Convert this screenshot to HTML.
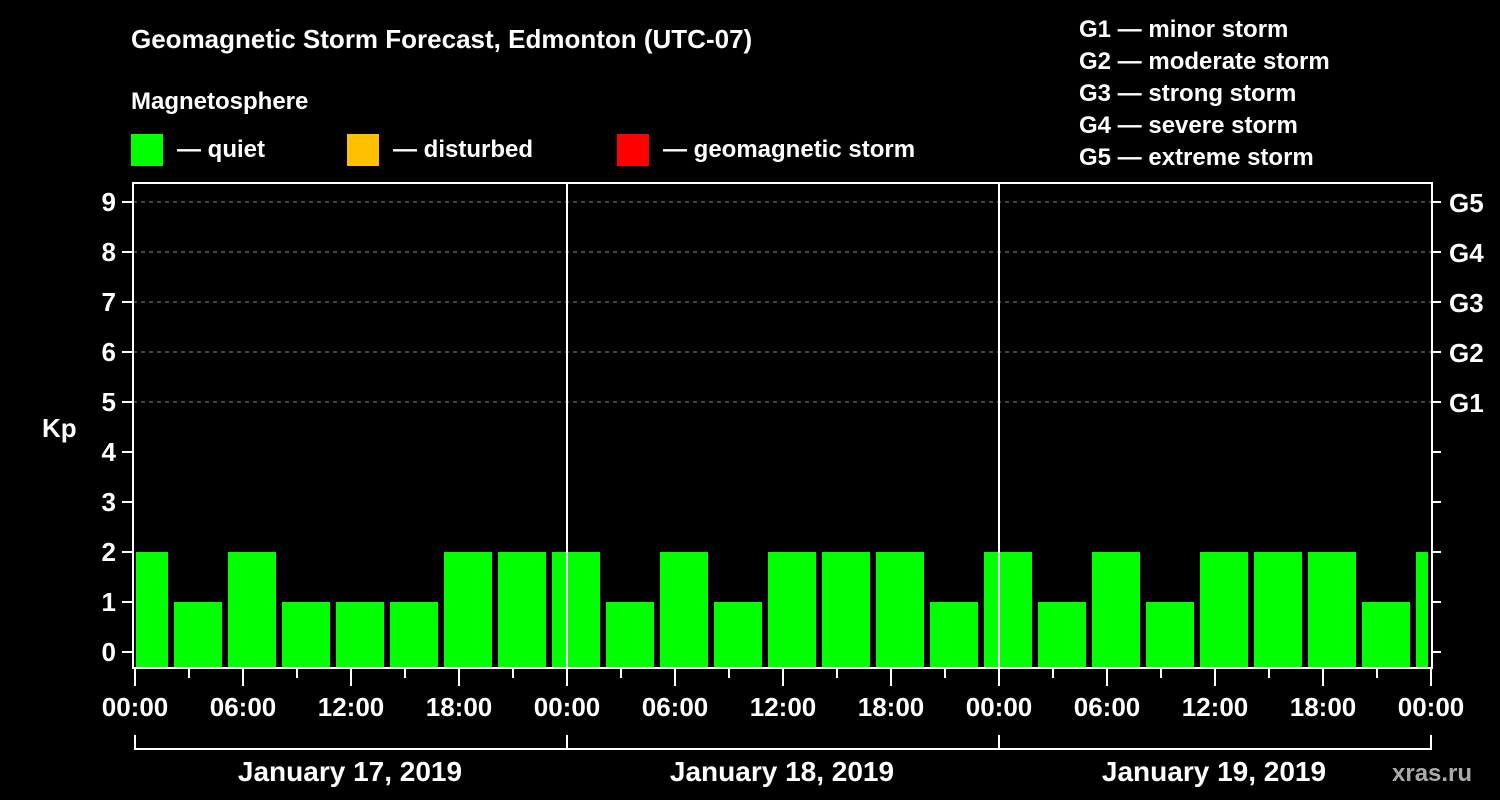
<!DOCTYPE html>
<html><head><meta charset="utf-8"><style>
html,body{margin:0;padding:0;background:#000;width:1500px;height:800px;overflow:hidden}
svg text{font-family:"Liberation Sans",sans-serif;font-weight:bold;fill:#fff}
</style></head><body>
<svg id="chart" width="1500" height="800" xmlns="http://www.w3.org/2000/svg">
<rect width="1500" height="800" fill="#000"/>
<text x="131" y="48" font-size="26">Geomagnetic Storm Forecast, Edmonton (UTC-07)</text>
<text x="131" y="109" font-size="24">Magnetosphere</text>
<g><rect x="131" y="134" width="32" height="32" fill="#00ff00"/><text x="177" y="157" font-size="24">— quiet</text></g>
<g><rect x="347" y="134" width="32" height="32" fill="#ffc000"/><text x="393" y="157" font-size="24">— disturbed</text></g>
<g><rect x="617" y="134" width="32" height="32" fill="#ff0000"/><text x="663" y="157" font-size="24">— geomagnetic storm</text></g>
<g font-size="24">
<text x="1079" y="37">G1 — minor storm</text>
<text x="1079" y="69">G2 — moderate storm</text>
<text x="1079" y="101">G3 — strong storm</text>
<text x="1079" y="133">G4 — severe storm</text>
<text x="1079" y="165">G5 — extreme storm</text>
</g>
<text x="42" y="437" font-size="26">Kp</text>
<text x="1392" y="781" font-size="24" fill="#aaa" style="fill:#aaa">xras.ru</text>
<g id="grid"></g><g id="bars"></g><g id="axes"></g>
</svg>
<script>
const barStartHours = [-1,2,5,8,11,14,17,20,23,26,29,32,35,38,41,44,47,50,53,56,59,62,65,68,71];
const kpValues = [2,1,2,1,1,1,2,2,2,1,2,1,2,2,2,1,2,1,2,1,2,2,2,1,2];
const yTicks = [0,1,2,3,4,5,6,7,8,9];
const gLabels = ["G1","G2","G3","G4","G5"];
const gLevels = [5,6,7,8,9];
const hourLabels = ["00:00","06:00","12:00","18:00","00:00","06:00","12:00","18:00","00:00","06:00","12:00","18:00","00:00"];
const dayLabels = ["January 17, 2019","January 18, 2019","January 19, 2019"];
const NS="http://www.w3.org/2000/svg";
const X=h=>135+18*h, Y=v=>652-50*v;
const L=133, R=1432, T=183, B=668;
function mk(tag,attrs,parent,txt){const e=document.createElementNS(NS,tag);for(const k in attrs)e.setAttribute(k,attrs[k]);if(txt!==undefined)e.textContent=txt;parent.appendChild(e);return e;}
const grid=document.getElementById('grid'),bars=document.getElementById('bars'),axes=document.getElementById('axes');
gLevels.forEach((v,i)=>{
  const l=mk('line',{x1:L,x2:R,y1:Y(v),y2:Y(v),stroke:'#888','stroke-dasharray':'4,4','stroke-width':1},grid);
  
  
  const t=mk('text',{x:1449,y:Y(v)+10,'font-size':26},axes,gLabels[i]);
  
  
});
barStartHours.forEach((h,i)=>{
  let x0=X(h)+3,x1=X(h)+51;x0=Math.max(x0,136);x1=Math.min(x1,1428);
  const v=kpValues[i];
  const col=v>=5?'#ff0000':(v>=4?'#ffc000':'#00ff00');
  const r=mk('rect',{x:x0,y:Y(v),width:x1-x0,height:B-Y(v),fill:col},bars);
  
  
});
const frame=mk('rect',{x:L,y:T,width:R-L,height:B-T,fill:'none',stroke:'#fff','stroke-width':2},axes);


[24,48].forEach(h=>{const l=mk('line',{x1:X(h),x2:X(h),y1:T,y2:B,stroke:'#fff','stroke-width':2},axes);
  
  });
yTicks.forEach(v=>{
  mk('line',{x1:122,x2:L,y1:Y(v),y2:Y(v),stroke:'#fff','stroke-width':2},axes);
  mk('line',{x1:R,x2:1441,y1:Y(v),y2:Y(v),stroke:'#fff','stroke-width':2},axes);
  const t=mk('text',{x:116,y:Y(v)+9,'font-size':26,'text-anchor':'end'},axes,String(v));
  
  
});
for(let h=0;h<=72;h+=3){const major=h%6===0;
  mk('line',{x1:X(h),x2:X(h),y1:B,y2:major?686:678,stroke:'#fff','stroke-width':2},axes);}
hourLabels.forEach((s,i)=>{
  const t=mk('text',{x:X(i*6),y:716,'font-size':26,'text-anchor':'middle'},axes,s);
  
  
});
const br=mk('path',{d:`M${X(0)},735V749H${X(72)}V735M${X(24)},735V749M${X(48)},735V749`,fill:'none',stroke:'#fff','stroke-width':2},axes);


dayLabels.forEach((s,i)=>{
  const t=mk('text',{x:X(i*24+12)-1,y:781,'font-size':28,'text-anchor':'middle'},axes,s);
  
  
});
</script>
</body></html>
